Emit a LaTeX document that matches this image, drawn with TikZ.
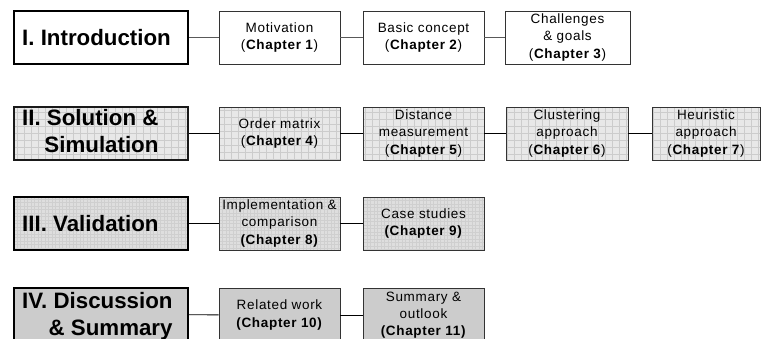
\documentclass[tikz,border=0pt]{standalone}
\usepackage{fontspec}
\setmainfont{Liberation Sans}
\newfontfamily\spacedfont[LetterSpace=5]{Liberation Sans}
\begin{document}
\begin{tikzpicture}[x=1pt,y=-1pt,
  big/.style={draw=black, line width=2pt, minimum width=174pt, minimum height=53pt, inner sep=0pt},
  bigtext/.style={anchor=west, align=right, inner sep=0pt, font=\fontsize{22.3}{27}\selectfont\bfseries},
  ch/.style={draw=black!80, line width=0.9pt, minimum width=121pt, minimum height=53pt, inner sep=0pt, align=center, font=\spacedfont\fontsize{13.5}{17.3}\selectfont},
  gridA/.style={fill=black!9, path picture={\draw[black!20, line width=0.5pt] (path picture bounding box.south west) grid[step=7pt] (path picture bounding box.north east);}},
  gridB/.style={fill=black!13, path picture={\draw[black!19, line width=0.4pt] (path picture bounding box.south west) grid[step=3.5pt] (path picture bounding box.north east);}},
  solid4/.style={fill=black!20},
  conn/.style={line width=0.9pt, draw=black}
]
\useasboundingbox (0,0) rectangle (762,339);
\clip (0,0) rectangle (762,339);

% Row 1
\node[big, fill=white] (p1) at (101,37.5) {};
\node[bigtext] (t1) at (22,37.5) {I. Introduction};
\node[ch, fill=white] (c1) at (279.5,37.5) {Motivation\\(\textbf{Chapter 1})};
\node[ch, fill=white] (c2) at (423.5,37.5) {Basic concept\\(\textbf{Chapter 2})};
\node[ch, fill=white, minimum width=125pt] (c3) at (567.5,37.5) {Challenges\\\& goals\\(\textbf{Chapter 3})};
\draw[conn, draw=black!65] (p1) -- (c1);
\draw[conn, draw=black!65] (c1) -- (c2);
\draw[conn, draw=black!65] (c2) -- (c3);

% Row 2
\node[big, gridA, line width=2.6pt, draw=black!90] (p2) at (101,133.5) {};
\node[bigtext] (t2) at (22,131) {II. Solution \&\\Simulation};
\node[ch, gridA] (c4) at (279.5,133.5) {Order matrix\\(\textbf{Chapter 4})};
\node[ch, gridA] (c5) at (423.5,133.5) {Distance\\measurement\\(\textbf{Chapter 5})};
\node[ch, gridA, minimum width=122pt] (c6) at (567,133.5) {Clustering\\approach\\(\textbf{Chapter 6})};
\node[ch, gridA, minimum width=108pt] (c7) at (706,133.5) {Heuristic\\approach\\(\textbf{Chapter 7})};
\draw[conn] (p2) -- (c4);
\draw[conn] (c4) -- (c5);
\draw[conn] (c5) -- (c6);
\draw[conn] (c6) -- (c7);

% Row 3
\node[big, gridB] (p3) at (101,223.5) {};
\node[bigtext] (t3) at (22,223.5) {III. Validation};
\node[ch, gridB] (c8) at (279.5,223.5) {Implementation \&\\comparison\\\textbf{(Chapter 8)}};
\node[ch, gridB] (c9) at (423.5,223.5) {Case studies\\\textbf{(Chapter 9)}};
\draw[conn] (p3) -- (c8);
\draw[conn] (c8) -- (c9);

% Row 4
\node[big, solid4] (p4) at (101,314.5) {};
\node[bigtext] (t4) at (22,316) {IV. Discussion\\\& Summary};
\node[ch, solid4] (c10) at (279.5,315) {Related work\\\textbf{(Chapter 10)}};
\node[ch, solid4] (c11) at (423.5,315) {Summary \&\\outlook\\\textbf{(Chapter 11)}};
\draw[conn] (p4) -- (c10);
\draw[conn] (c10) -- (c11);
\end{tikzpicture}
\end{document}
